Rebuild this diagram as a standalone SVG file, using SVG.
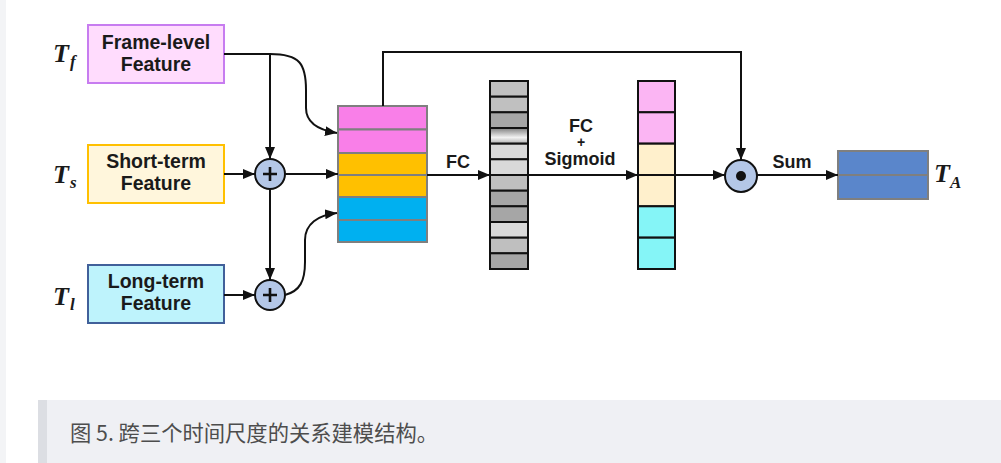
<svg xmlns="http://www.w3.org/2000/svg" width="1001" height="463" viewBox="0 0 1001 463">
<style>
.lbl{font-family:"Liberation Sans",Arial,sans-serif;font-weight:bold;font-size:19.5px;fill:#1a1a1a;text-anchor:middle}
.sm{font-family:"Liberation Sans",Arial,sans-serif;font-weight:bold;font-size:18px;fill:#1a1a1a;text-anchor:middle}
.tv{font-family:"Liberation Serif","Times New Roman",serif;font-weight:bold;font-style:italic;font-size:26px;fill:#1a1a1a}
.ts{font-size:17px}
.ln{fill:none;stroke:#111;stroke-width:2}
.op{fill:#b4c7e7;stroke:#111;stroke-width:2}
.st{stroke:#7f7f7f;stroke-width:2}
.gc{stroke:#111;stroke-width:2}
</style>
<defs>
<marker id="ah" viewBox="0 0 12 10" refX="12" refY="5" markerWidth="12" markerHeight="10" markerUnits="userSpaceOnUse" orient="auto">
<path d="M0,0 L12,5 L0,10 Z" fill="#111"/>
</marker>
<linearGradient id="gr" x1="0" y1="0" x2="0" y2="1">
<stop offset="0" stop-color="#7f7f7f"/>
<stop offset="0.6" stop-color="#f2f2f2"/>
<stop offset="1" stop-color="#b0b0b0"/>
</linearGradient>
</defs>
<rect x="0" y="0" width="1001" height="463" fill="#ffffff"/>
<rect x="0" y="0" width="6" height="463" fill="#f3f4f6"/>

<g id="frame-level">
<rect x="88" y="25" width="136" height="58" fill="#ffdcfd" stroke="#c77cf0" stroke-width="2"/>
<text class="lbl" x="156" y="49">Frame-level</text>
<text class="lbl" x="156" y="71">Feature</text>
<text class="tv" x="53" y="62">T<tspan class="ts" dx="1" dy="5">f</tspan></text>
</g>
<g id="short-term">
<rect x="88" y="145" width="136" height="58" fill="#fff6dc" stroke="#ffc000" stroke-width="2"/>
<text class="lbl" x="156" y="168">Short-term</text>
<text class="lbl" x="156" y="190">Feature</text>
<text class="tv" x="53" y="183">T<tspan class="ts" dx="1" dy="5">s</tspan></text>
</g>
<g id="long-term">
<rect x="88" y="265" width="136" height="58" fill="#bef3fc" stroke="#41609a" stroke-width="2"/>
<text class="lbl" x="156" y="288">Long-term</text>
<text class="lbl" x="156" y="310">Feature</text>
<text class="tv" x="53" y="305">T<tspan class="ts" dx="1" dy="5">l</tspan></text>
</g>

<g id="plus1">
<circle class="op" cx="270" cy="174" r="15"/>
<path d="M263,174 H277 M270,167 V181" stroke="#111" stroke-width="2.6"/>
</g>
<g id="plus2">
<circle class="op" cx="270" cy="295" r="15"/>
<path d="M263,295 H277 M270,288 V302" stroke="#111" stroke-width="2.6"/>
</g>

<g id="stack">
<rect class="st" x="338" y="106" width="89" height="23.5" fill="#f97fe8"/>
<rect class="st" x="338" y="129.5" width="89" height="23.5" fill="#f97fe8"/>
<rect class="st" x="338" y="153" width="89" height="22" fill="#ffc000"/>
<rect class="st" x="338" y="175" width="89" height="22" fill="#ffc000"/>
<rect class="st" x="338" y="197" width="89" height="23" fill="#00b0f0"/>
<rect class="st" x="338" y="220" width="89" height="22" fill="#00b0f0"/>
</g>

<g id="gray-column">
<rect class="gc" x="490" y="81" width="38" height="15.7" fill="#c0c0c0"/>
<rect class="gc" x="490" y="96.7" width="38" height="15.7" fill="#c0c0c0"/>
<rect class="gc" x="490" y="112.3" width="38" height="15.7" fill="#a6a6a6"/>
<rect class="gc" x="490" y="128" width="38" height="15.7" fill="url(#gr)"/>
<rect class="gc" x="490" y="143.7" width="38" height="15.7" fill="#d9d9d9"/>
<rect class="gc" x="490" y="159.3" width="38" height="15.7" fill="#d9d9d9"/>
<rect class="gc" x="490" y="175" width="38" height="15.7" fill="#bfbfbf"/>
<rect class="gc" x="490" y="190.7" width="38" height="15.7" fill="#a6a6a6"/>
<rect class="gc" x="490" y="206.3" width="38" height="15.7" fill="#a6a6a6"/>
<rect class="gc" x="490" y="222" width="38" height="15.7" fill="#d9d9d9"/>
<rect class="gc" x="490" y="237.7" width="38" height="15.7" fill="#bfbfbf"/>
<rect class="gc" x="490" y="253.3" width="38" height="15.7" fill="#a6a6a6"/>
</g>

<g id="weights-column">
<rect class="gc" x="638" y="81" width="37" height="31.3" fill="#fbb5f3"/>
<rect class="gc" x="638" y="112.3" width="37" height="31.3" fill="#fbb5f3"/>
<rect class="gc" x="638" y="143.7" width="37" height="31.3" fill="#fff0cc"/>
<rect class="gc" x="638" y="175" width="37" height="31.3" fill="#fff0cc"/>
<rect class="gc" x="638" y="206.3" width="37" height="31.3" fill="#85f5f7"/>
<rect class="gc" x="638" y="237.7" width="37" height="31.3" fill="#85f5f7"/>
</g>

<g id="odot">
<circle class="op" cx="741" cy="176" r="16"/>
<circle cx="741" cy="176" r="5" fill="#111"/>
</g>

<g id="output">
<rect class="st" x="838" y="151" width="90" height="24" fill="#5a86cb"/>
<rect class="st" x="838" y="175" width="90" height="24" fill="#5a86cb"/>
<text class="tv" x="934" y="182">T<tspan class="ts" dx="0" dy="6">A</tspan></text>
</g>

<g id="connectors">
<path class="ln" d="M224,54 H270"/>
<path class="ln" d="M270,54 V159" marker-end="url(#ah)"/>
<path class="ln" d="M270,54 C300,54 306,64 306,90 L306,108 C306,122 318,130 337,133" marker-end="url(#ah)"/>
<path class="ln" d="M224,174 H255" marker-end="url(#ah)"/>
<path class="ln" d="M285,174 H338" marker-end="url(#ah)"/>
<path class="ln" d="M270,189 V280" marker-end="url(#ah)"/>
<path class="ln" d="M224,295 H255" marker-end="url(#ah)"/>
<path class="ln" d="M285,295 C300,291 305,281 305,262 L305,240 C305,224 318,215 337,213" marker-end="url(#ah)"/>
<path class="ln" d="M427,175 H490" marker-end="url(#ah)"/>
<path class="ln" d="M528,175 H638" marker-end="url(#ah)"/>
<path class="ln" d="M675,175 H725" marker-end="url(#ah)"/>
<path class="ln" d="M383,106 V52 H741 V160" marker-end="url(#ah)"/>
<path class="ln" d="M757,175 H838" marker-end="url(#ah)"/>
<text class="sm" x="458" y="168">FC</text>
<text class="sm" x="581" y="132">FC</text>
<text class="sm" x="581" y="147" style="font-size:14px">+</text>
<text class="sm" x="580" y="165">Sigmoid</text>
<text class="sm" x="792" y="168">Sum</text>
</g>

<g id="caption">
<rect x="38" y="400" width="963" height="63" fill="#eff0f4"/>
<rect x="38" y="400" width="9" height="63" fill="#dcdee3"/>
<text x="70" y="441" font-family="Noto Sans CJK SC, sans-serif" font-size="21.3" fill="#4d4d4d">图 5. 跨三个时间尺度的关系建模结构。</text>
</g>
</svg>
